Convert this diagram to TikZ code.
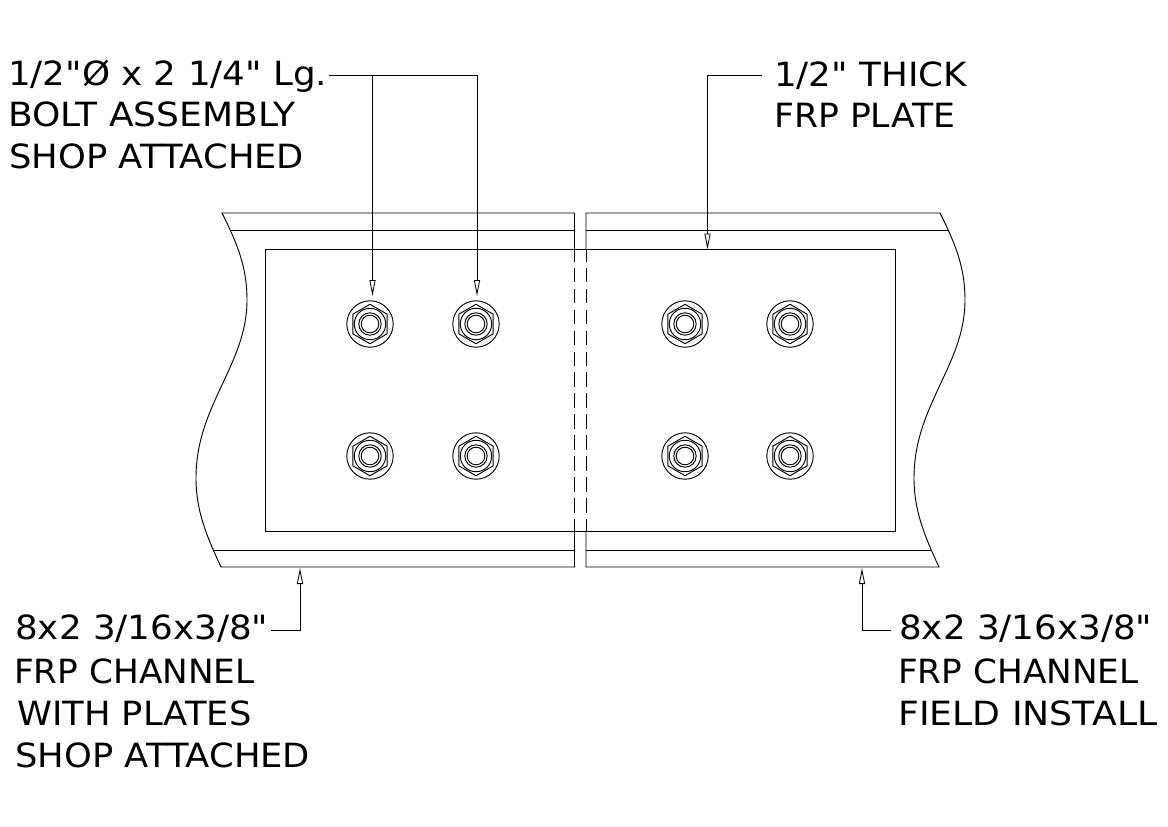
\documentclass[tikz,border=0pt]{standalone}
\usepackage{fontspec}
\defaultfontfeatures[\rmfamily]{}
\setmainfont{DejaVu Sans}[FakeStretch=1.06]
\usetikzlibrary{arrows.meta,calc}
\tikzset{
  part/.style={line width=0.7pt},
  hiddenedge/.style={part,dash pattern=on 11pt off 4.7pt,dash phase=2pt},
  leader/.style={line width=0.65pt},
  tipline/.style={leader,-{Triangle[open,length=12pt,width=4.6pt]}},
  callout/.style={anchor=west,inner sep=0pt,font=\fontsize{25pt}{30pt}\selectfont},
  tighter/.style={xscale=#1,transform shape},
}
\newcommand{\boltface}[1]{%
  \draw[part] (#1) circle (17.4pt);
  \draw[part] (#1) circle (11.8pt);
  \draw[part] (#1) circle (8.4pt);
  \draw[part] (#1) circle (6.6pt);
  \draw[part] ($(#1)+(90:14.8pt)$) -- ($(#1)+(150:14.8pt)$) -- ($(#1)+(210:14.8pt)$) -- ($(#1)+(270:14.8pt)$) -- ($(#1)+(330:14.8pt)$) -- ($(#1)+(30:14.8pt)$) -- cycle;
}
\begin{document}
\begin{tikzpicture}[x=0.75pt,y=-0.75pt]
  \useasboundingbox (0,0) rectangle (1168,826);
  \fill[white] (0,0) rectangle (1168,826);
  % channels
  \draw[part] (574.5,249.5) -- (574.5,213) -- (222,213) .. controls (238,245) and (247,268) .. (247,300)
    .. controls (247,365) and (196,405) .. (196,478) .. controls (196,510) and (206,535) .. (221,567)
    -- (574.5,567) -- (574.5,531.5);
  \draw[part] (586,249.5) -- (586,213) -- (940,213) .. controls (956,245) and (965,268) .. (965,300)
    .. controls (965,365) and (914,405) .. (914,478) .. controls (914,510) and (924,535) .. (939,567)
    -- (586,567) -- (586,531.5);
  \draw[part] (231,230.5) -- (574.5,230.5) (586,230.5) -- (949,230.5);
  \draw[part] (213,550.5) -- (574.5,550.5) (586,550.5) -- (931,550.5);
  % plate
  \draw[part] (265,249.5) rectangle (895,531.5);
  \draw[hiddenedge] (574.5,249.5) -- (574.5,531.5);
  \draw[hiddenedge] (586,249.5) -- (586,531.5);
  % bolts
  \foreach \bx/\bname in {370/a,476/b,685/c,790/d}
    \foreach \by/\brow in {324/t,456/b} {
      \coordinate (bolt\bname\brow) at (\bx,\by);
      \boltface{bolt\bname\brow}
    }
  % labels
  \node[callout,tighter=1.01] (boltlg) at (8,76) {1/2"Ø x 2 1/4" Lg.};
  \node[callout,tighter=1.02] (boltasm) at (8,114) {BOLT ASSEMBLY};
  \node[callout] (boltshop) at (9,156) {SHOP ATTACHED};
  \node[callout,tighter=1.01] (platethk) at (774,76) {1/2" THICK};
  \node[callout,tighter=0.98] (platefrp) at (774,115.5) {FRP PLATE};
  \node[callout,tighter=1.01] (leftsize) at (15,629) {8x2 3/16x3/8"};
  \node[callout,tighter=0.97] (leftfrp) at (14,671) {FRP CHANNEL};
  \node[callout] (leftwith) at (17,713) {WITH PLATES};
  \node[callout] (leftshop) at (15,755) {SHOP ATTACHED};
  \node[callout,tighter=1.01] (rightsize) at (899,629) {8x2 3/16x3/8"};
  \node[callout,tighter=0.97] (rightfrp) at (898,671) {FRP CHANNEL};
  \node[callout,tighter=1.025] (rightfield) at (898,713) {FIELD INSTALL};
  % leaders
  \coordinate (lgend) at (329,75);
  \coordinate (thkend) at (762,75);
  \coordinate (leftend) at (271,630);
  \coordinate (rightend) at (891,630);
  \coordinate (tipa) at (372.5,296);
  \coordinate (tipb) at (477,296);
  \coordinate (tipplate) at (707.5,249.5);
  \coordinate (tipleft) at (300,568);
  \coordinate (tipright) at (862,568);
  \draw[leader] (lgend) -- (tipa |- lgend);
  \draw[tipline] (lgend) -| (tipb);
  \draw[tipline] (tipa |- lgend) -- (tipa);
  \draw[tipline] (thkend) -| (tipplate);
  \draw[tipline] (leftend) -| (tipleft);
  \draw[tipline] (rightend) -| (tipright);
\end{tikzpicture}
\end{document}
